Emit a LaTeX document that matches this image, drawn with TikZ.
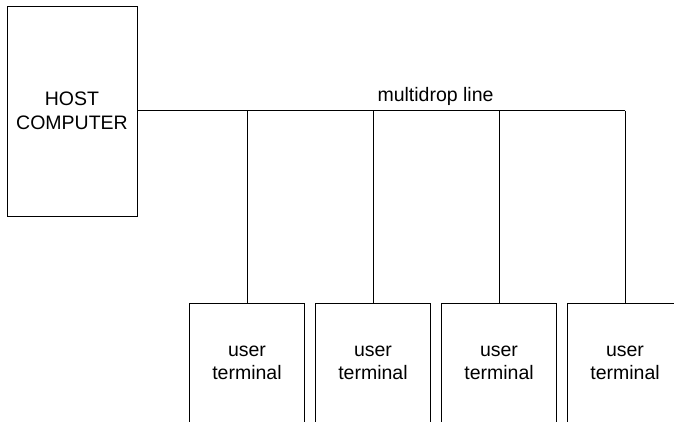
\documentclass[tikz,border=0pt]{standalone}
\usepackage{fontspec}
\setmainfont{Liberation Sans}
\usetikzlibrary{positioning}

\begin{document}
\begin{tikzpicture}[x=1pt, y=-1pt, line width=1pt,
    every node/.style={font=\fontsize{19.5}{23.5}\selectfont, align=center},
    hostbox/.style={draw, minimum width=130, minimum height=210, inner sep=0pt},
    termbox/.style={draw, minimum width=115, minimum height=120, inner sep=0pt}]
      \useasboundingbox (0,0) rectangle (674,421);
      \clip (0,0) rectangle (674,421);
      \node[hostbox] (host) at (72,111) {HOST\\COMPUTER};
      \foreach \i/\x in {1/247, 2/373, 3/499, 4/625}
        \node[termbox] (term\i) at (\x,363) {user\\terminal};
      \draw (host.east |- 0,110.5) coordinate (busstart) -- (busstart -| term4.north) coordinate (busend);
      \foreach \i in {1,...,4}
        \draw (busstart -| term\i.north) -- (term\i.north);
      \node[anchor=base] (buslabel) at (435.5,101.5) {multidrop line};
    \end{tikzpicture}
\end{document}
